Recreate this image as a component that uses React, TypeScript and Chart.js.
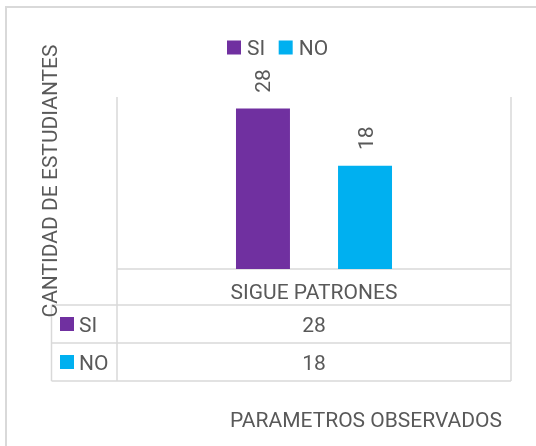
import React, { useEffect, useRef } from "react";
import { Chart, registerables } from "chart.js";

Chart.register(...registerables);

const categories = ["SIGUE PATRONES"];
const seriesNames = ["SI", "NO"];
const siValues = [28];
const noValues = [18];
const seriesColors = ["#7030A0", "#00B0F0"];
const yAxisTitle = "CANTIDAD DE ESTUDIANTES";
const xAxisTitle = "PARAMETROS OBSERVADOS";
const yMax = 30;

const FONT = "21px Roboto";
const TEXT = "#595959";
const LINE = "#d9d9d9";

const excelPlugin = {
  id: "excelTable",
  beforeDraw(chart: any) {
    const { ctx, width, height } = chart;
    ctx.save();
    ctx.fillStyle = "#ffffff";
    ctx.fillRect(0, 0, width, height);
    ctx.strokeStyle = LINE;
    ctx.lineWidth = 2;
    ctx.beginPath();
    ctx.moveTo(6, height + 5);
    ctx.lineTo(6, 7);
    ctx.lineTo(width + 5, 7);
    ctx.stroke();
    ctx.restore();
  },
  beforeDatasetsDraw(chart: any) {
    const { ctx } = chart;
    const { left, right, top, bottom } = chart.chartArea;
    const headerH = 36;
    const rowH = 38;
    const labelColLeft = left - 65.5;
    const n = chart.data.datasets.length;
    const end = bottom + headerH + rowH * n;
    ctx.save();
    ctx.strokeStyle = LINE;
    ctx.lineWidth = 1.5;
    ctx.beginPath();
    ctx.moveTo(left, top);
    ctx.lineTo(left, end);
    ctx.moveTo(right, top);
    ctx.lineTo(right, end);
    ctx.moveTo(left, bottom);
    ctx.lineTo(right, bottom);
    for (let i = 0; i <= n; i++) {
      const yy = bottom + headerH + i * rowH;
      ctx.moveTo(labelColLeft, yy);
      ctx.lineTo(right, yy);
    }
    ctx.moveTo(labelColLeft, bottom + headerH);
    ctx.lineTo(labelColLeft, end);
    ctx.stroke();
    ctx.restore();
  },
  afterDatasetsDraw(chart: any) {
    const { ctx } = chart;
    const { left, bottom } = chart.chartArea;
    const xScale = chart.scales.x;
    const headerH = 36;
    const rowH = 38;
    const labelColLeft = left - 65.5;
    ctx.save();
    ctx.font = FONT;
    ctx.fillStyle = TEXT;
    ctx.textBaseline = "alphabetic";

    // header row
    ctx.textAlign = "center";
    categories.forEach((c, i) => {
      ctx.fillText(c, xScale.getPixelForValue(i), bottom + 30);
    });

    // data rows
    chart.data.datasets.forEach((ds: any, d: number) => {
      const rowTop = bottom + headerH + d * rowH;
      ctx.fillStyle = ds.backgroundColor;
      ctx.fillRect(labelColLeft + 8.5, rowTop + 12, 14, 14);
      ctx.fillStyle = TEXT;
      ctx.textAlign = "left";
      ctx.fillText(ds.label, labelColLeft + 27.5, rowTop + 27);
      ctx.textAlign = "center";
      ds.data.forEach((v: number, i: number) => {
        ctx.fillText(String(v), xScale.getPixelForValue(i), rowTop + 27);
      });
    });

    // data labels on bars (rotated)
    chart.data.datasets.forEach((ds: any, d: number) => {
      const meta = chart.getDatasetMeta(d);
      meta.data.forEach((bar: any, i: number) => {
        ctx.save();
        ctx.translate(bar.x + 7.5, bar.y - 27.5);
        ctx.rotate(-Math.PI / 2);
        ctx.textAlign = "center";
        ctx.fillStyle = TEXT;
        ctx.fillText(String(ds.data[i]), 0, 0);
        ctx.restore();
      });
    });

    // top legend
    let lx = 227;
    const ly = 40.5;
    chart.data.datasets.forEach((ds: any) => {
      ctx.fillStyle = ds.backgroundColor;
      ctx.fillRect(lx, ly, 14, 14);
      ctx.fillStyle = TEXT;
      ctx.textAlign = "left";
      ctx.fillText(ds.label, lx + 20, ly + 14.5);
      lx += 20 + ctx.measureText(ds.label).width + 13.5;
    });

    // y axis title
    ctx.save();
    ctx.translate(56.5, 181);
    ctx.rotate(-Math.PI / 2);
    ctx.textAlign = "center";
    ctx.fillStyle = TEXT;
    ctx.fillText(yAxisTitle, 0, 0);
    ctx.restore();

    // x axis title
    ctx.textAlign = "center";
    ctx.fillText(xAxisTitle, 366, 427);
    ctx.restore();
  },
};

export default function App() {
  const ref = useRef<HTMLCanvasElement | null>(null);
  useEffect(() => {
    if (!ref.current) return;
    const chart = new Chart(ref.current, {
      type: "bar",
      data: {
        labels: categories,
        datasets: [
          { label: seriesNames[0], data: siValues, backgroundColor: seriesColors[0] },
          { label: seriesNames[1], data: noValues, backgroundColor: seriesColors[1] },
        ],
      },
      options: {
        responsive: false,
        animation: false,
        devicePixelRatio: 1,
        layout: { padding: { left: 117, right: 25, top: 97, bottom: 177 } },
        datasets: { bar: { categoryPercentage: 0.518, barPercentage: 0.529 } },
        plugins: { legend: { display: false }, tooltip: { enabled: false } },
        scales: {
          x: { display: false, offset: true },
          y: { display: false, min: 0, max: yMax },
        },
      },
      plugins: [excelPlugin],
    });
    return () => chart.destroy();
  }, []);
  return (
    <div style={{ position: "absolute", left: 0, top: 0, width: 536, height: 446 }}>
      <canvas ref={ref} width={536} height={446} style={{ display: "block" }} />
    </div>
  );
}
